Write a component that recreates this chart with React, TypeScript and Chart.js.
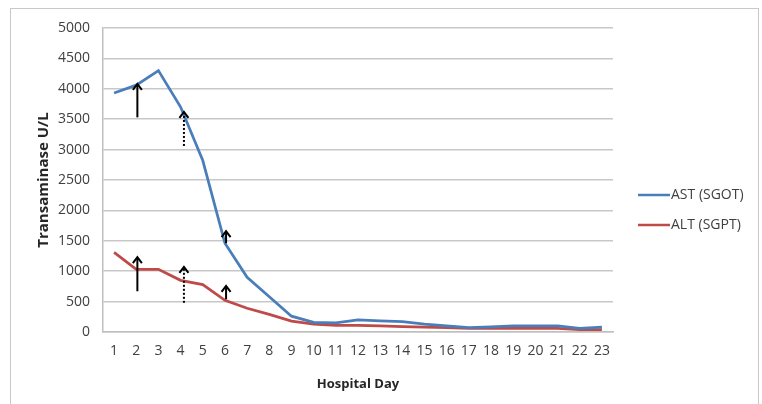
import React, { useEffect, useRef } from "react";
import { Chart, registerables } from "chart.js";

Chart.register(...registerables);

const days = ["1","2","3","4","5","6","7","8","9","10","11","12","13","14","15","16","17","18","19","20","21","22","23"];
const astValues = [3930, 4060, 4300, 3700, 2820, 1460, 900, 580, 260, 160, 150, 200, 185, 170, 130, 100, 70, 85, 100, 100, 100, 60, 80];
const altValues = [1310, 1030, 1030, 850, 780, 520, 390, 290, 180, 130, 110, 110, 100, 90, 80, 70, 60, 60, 60, 60, 60, 40, 40];
const seriesLabels = ["AST (SGOT)", "ALT (SGPT)"];
const seriesColors = ["#4a7ebb", "#be4b48"];

// annotation arrows (day position, tail value, tip value, dotted?)
const arrowDay = [2.05, 2.05, 4.15, 4.15, 6.05, 6.05];
const arrowFrom = [3530, 670, 3060, 480, 1460, 540];
const arrowTo = [4080, 1230, 3620, 1070, 1660, 760];
const arrowDotted = [false, false, true, true, false, false];

const yTitle = "Transaminase U/L";
const xTitle = "Hospital Day";

const FONT = "'Open Sans', 'Liberation Sans', sans-serif";

const arrowsPlugin = {
  id: "arrows",
  afterDatasetsDraw(chart: any) {
    const { ctx, scales } = chart;
    const xs = scales.x;
    const ys = scales.y;
    ctx.save();
    ctx.strokeStyle = "#000";
    for (let i = 0; i < arrowDay.length; i++) {
      const x = xs.getPixelForValue(arrowDay[i] - 1);
      const y0 = ys.getPixelForValue(arrowFrom[i]);
      const y1 = ys.getPixelForValue(arrowTo[i]);
      ctx.lineWidth = 2;
      ctx.setLineDash(arrowDotted[i] ? [2, 2] : []);
      ctx.beginPath();
      ctx.moveTo(x, y0);
      ctx.lineTo(x, y1 + 1);
      ctx.stroke();
      ctx.setLineDash([]);
      ctx.beginPath();
      ctx.moveTo(x - 4.5, y1 + 6);
      ctx.lineTo(x, y1);
      ctx.lineTo(x + 4.5, y1 + 6);
      ctx.stroke();
    }
    ctx.restore();
  },
};

const legendPlugin = {
  id: "customLegend",
  afterDraw(chart: any) {
    const { ctx, chartArea } = chart;
    ctx.save();
    const x0 = chartArea.right + 25;
    const yStart = chartArea.top + 167;
    ctx.font = `14px ${FONT}`;
    ctx.textBaseline = "middle";
    ctx.textAlign = "left";
    for (let i = 0; i < seriesLabels.length; i++) {
      const y = yStart + i * 30;
      ctx.strokeStyle = seriesColors[i];
      ctx.lineWidth = 2.5;
      ctx.beginPath();
      ctx.moveTo(x0, y);
      ctx.lineTo(x0 + 32, y);
      ctx.stroke();
      ctx.fillStyle = "#404040";
      ctx.fillText(seriesLabels[i], x0 + 33, y);
    }
    ctx.restore();
  },
};

export default function App() {
  const ref = useRef<HTMLCanvasElement>(null);
  useEffect(() => {
    if (!ref.current) return;
    const chart = new Chart(ref.current, {
      type: "line",
      data: {
        labels: days,
        datasets: [
          {
            label: seriesLabels[0],
            data: astValues,
            borderColor: seriesColors[0],
            backgroundColor: seriesColors[0],
            borderWidth: 2.75,
            pointRadius: 0,
            tension: 0,
          },
          {
            label: seriesLabels[1],
            data: altValues,
            borderColor: seriesColors[1],
            backgroundColor: seriesColors[1],
            borderWidth: 2.75,
            pointRadius: 0,
            tension: 0,
          },
        ],
      },
      options: {
        animation: false,
        responsive: false,
        maintainAspectRatio: false,
        layout: { padding: { left: 0, right: 149, top: 28, bottom: 0 } },
        plugins: { legend: { display: false }, tooltip: { enabled: false } },
        scales: {
          x: {
            offset: true,
            grid: { display: false, drawTicks: false },
            border: { display: true, color: "#bfbfbf", width: 1.5 },
            ticks: {
              color: "#404040",
              font: { family: FONT, size: 14 },
              padding: 11,
              maxRotation: 0,
              autoSkip: false,
            },
            title: {
              display: true,
              text: xTitle,
              color: "#262626",
              font: { family: FONT, size: 13, weight: "bold" },
              padding: { top: 0, bottom: 12 },
            },
            afterFit(scale: any) {
              scale.height = 72;
            },
          },
          y: {
            min: 0,
            max: 5000,
            ticks: {
              stepSize: 500,
              color: "#404040",
              font: { family: FONT, size: 14 },
              padding: 13,
              callback: (v: any) => String(v),
            },
            grid: { color: "#c8c8c8", lineWidth: 1.5, drawTicks: false },
            border: { display: true, color: "#bfbfbf", width: 1.5 },
            title: {
              display: true,
              text: yTitle,
              color: "#262626",
              font: { family: FONT, size: 15, weight: "bold" },
              padding: { top: 35, bottom: 0 },
            },
            afterFit(scale: any) {
              scale.width = 103;
            },
          },
        },
      },
      plugins: [arrowsPlugin, legendPlugin],
    });
    return () => chart.destroy();
  }, []);

  return (
    <div style={{ position: "fixed", left: 0, top: 0, width: 762, height: 404, background: "#fff", overflow: "hidden" }}>
      <div
        style={{
          position: "absolute",
          left: 10,
          top: 8,
          width: 749,
          height: 420,
          border: "1.5px solid #c8c8c8",
          boxSizing: "border-box",
        }}
      />
      <canvas ref={ref} width={762} height={404} style={{ position: "absolute", left: 0, top: 0, width: 762, height: 404 }} />
    </div>
  );
}
